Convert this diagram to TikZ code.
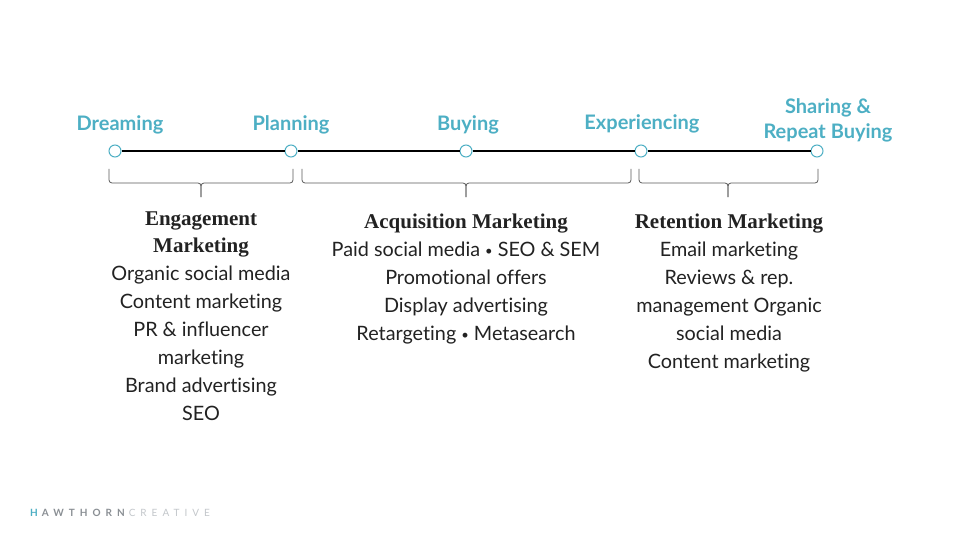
\documentclass[tikz,border=0pt]{standalone}
\usepackage{fontspec}
\setmainfont[Ligatures={NoCommon}]{Lato}
\newfontfamily\headfont{Liberation Serif}
\newfontfamily\logofont[LetterSpace=50]{Lato}
\usepackage{tikz}
\usetikzlibrary{positioning}

\definecolor{hawteal}{HTML}{4DAFC4}
\definecolor{hawgrey}{HTML}{8A8F94}
\definecolor{hawlight}{HTML}{C3C7CB}
\definecolor{bodyink}{HTML}{222222}
\definecolor{braceink}{HTML}{5A5A5A}

\tikzset{
  stage/.style={circle,draw=hawteal,fill=white,line width=1pt,minimum size=12pt,inner sep=0pt},
  stagelbl/.style={text=hawteal,font=\fontsize{20}{25}\selectfont\bfseries,align=center,inner sep=0pt},
  headlbl/.style={text=bodyink,font=\headfont\fontsize{21}{27}\selectfont\bfseries,align=center,inner sep=0pt},
  bodylbl/.style={text=bodyink,font=\fontsize{19.8}{28}\selectfont,align=center,inner sep=0pt,anchor=north},
  bracket/.style={draw=braceink,line width=0.8pt,rounded corners=3pt}
}

% square brace: left x, right x, middle x
\newcommand\stagebrace[3]{%
  \draw[bracket] (#1,-169) -- (#1,-183) -- (#3,-183) -- (#3,-197);
  \draw[bracket] (#2,-169) -- (#2,-183) -- (#3,-183) -- (#3,-197);
}
\newcommand\dotsep{{\fontsize{13}{13}\selectfont\raisebox{1.5pt}{•}}}

\begin{document}
\begin{tikzpicture}[x=1pt,y=1pt]
\useasboundingbox[fill=white] (0,0) rectangle (960,-540);

% timeline
\node[stage] (dream) at (115,-151) {};
\node[stage] (plan) at (291,-151) {};
\node[stage] (buy) at (466,-151) {};
\node[stage] (exper) at (641,-151) {};
\node[stage] (share) at (817,-151) {};
\draw[black,line width=2.2pt] (dream) -- (plan) -- (buy) -- (exper) -- (share);

\node[stagelbl] (dreamlbl) at (120,-125) {Dreaming};
\node[stagelbl] (planlbl) at (291,-125) {Planning};
\node[stagelbl] (buylbl) at (468,-125) {Buying};
\node[stagelbl] (experlbl) at (642,-124) {Experiencing};
\node[stagelbl] (sharelbl) at (828,-120) {Sharing \&\\Repeat Buying};

% braces
\stagebrace{109}{293}{201}
\stagebrace{302}{631}{466}
\stagebrace{639}{818}{728}

% engagement
\node[headlbl] (enghead) at (201,-234) {Engagement\\Marketing};
\node[bodylbl] (engbody) at (201,-266) {Organic social media\\Content marketing\\PR \& influencer\\marketing\\Brand advertising\\SEO};

% acquisition
\node[headlbl] (acqhead) at (466,-224) {Acquisition Marketing};
\node[bodylbl] (acqbody) at (466,-242) {Paid social media \dotsep{} SEO \& SEM\\Promotional offers\\Display advertising\\Retargeting \dotsep{} Metasearch};

% retention
\node[headlbl] (rethead) at (729,-224) {Retention Marketing};
\node[bodylbl] (retbody) at (729,-242) {Email marketing\\Reviews \& rep.\\management Organic\\social media\\Content marketing};

% logo
\node[anchor=west,inner sep=0pt,font=\logofont\fontsize{10}{12}\selectfont] (logo) at (30,-513)
  {\textcolor{hawteal}{\bfseries H}\kern4pt\textcolor{hawgrey}{\bfseries AWTHORN}\kern4pt\textcolor{hawlight}{CREATIVE}};
\end{tikzpicture}
\end{document}
